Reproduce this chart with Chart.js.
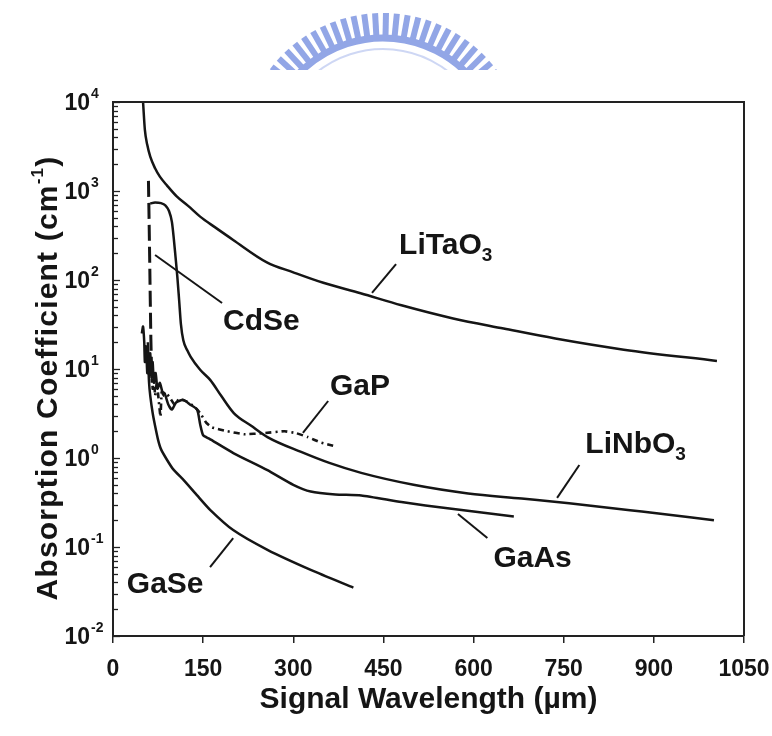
<!DOCTYPE html>
<html>
<head>
<meta charset="utf-8">
<script src="https://cdn.jsdelivr.net/npm/chart.js@4/dist/chart.umd.min.js"></script>
<style>
  html, body { margin: 0; padding: 0; background: #fff; }
  canvas { display: block; }
</style>
</head>
<body>
<canvas id="absChart" width="772" height="736"></canvas>
<script>
// wavelength (um) / absorption (cm^-1) for each crystal
const litaoWl  = [50, 53, 57, 62, 70, 78, 90, 106, 125, 145, 170, 200, 256, 300, 350, 412, 480, 566, 650, 736, 850, 1005];
const litaoAbs = [10000, 4900, 3300, 2430, 1800, 1450, 1150, 870, 680, 515, 390, 282, 158, 122, 93, 71, 52, 37, 28.5, 22, 16.5, 12.3];

const linboWl  = [62, 70, 80, 87, 93, 98, 101, 104, 107, 110, 113, 117, 124, 129, 145, 162, 180, 201, 230, 257, 313, 360, 413, 500, 591, 680, 759, 880, 1000];
const linboAbs = [720, 745, 730, 690, 600, 450, 300, 183, 110, 60, 32, 21, 16, 13.8, 9.8, 7.5, 5.0, 3.2, 2.3, 1.72, 1.17, 0.88, 0.68, 0.50, 0.40, 0.35, 0.31, 0.25, 0.20];

const cdseWl  = [59, 60, 61, 62, 63, 64, 65];
const cdseAbs = [1300, 500, 180, 60, 22, 11, 7];

const gapWl  = [60, 62, 64, 66, 68, 70, 73, 76, 79, 81, 85, 90, 96, 102, 110, 123, 135, 145, 155, 165, 190, 218, 250, 285, 305, 324, 345, 371];
const gapAbs = [15, 8, 12, 6, 9, 5, 7, 4.5, 2.9, 5.5, 5.0, 5.2, 4.6, 4.0, 4.6, 4.3, 3.8, 3.2, 2.5, 2.2, 2.0, 1.85, 1.9, 2.0, 1.9, 1.72, 1.5, 1.35];

const gaasWl  = [58, 60, 62, 64, 66, 68, 71, 74, 78, 82, 86, 92, 98, 105, 117, 128, 140, 145, 150, 160, 201, 257, 300, 329, 370, 413, 480, 560, 667];
const gaasAbs = [20, 10, 15, 8, 12, 7, 9, 6, 7, 5.6, 5.3, 4.0, 3.5, 4.2, 4.5, 4.0, 3.5, 2.4, 1.8, 1.65, 1.13, 0.73, 0.50, 0.42, 0.39, 0.38, 0.32, 0.27, 0.22];

const gaseWl  = [48, 50, 52, 53, 55, 57, 58, 60, 62, 66, 70, 75, 80, 90, 100, 118, 140, 162, 200, 257, 330, 400];
const gaseAbs = [25, 30, 20, 12, 18, 9, 14, 7, 5, 3.2, 2.3, 1.6, 1.25, 0.95, 0.75, 0.56, 0.38, 0.26, 0.155, 0.093, 0.055, 0.035];

const wavelengthTicks = [0, 150, 300, 450, 600, 750, 900, 1050];
const decadeExps = [-2, -1, 0, 1, 2, 3, 4];

// curve names, written next to the curves with a short leader line (data coords)
const curveNotes = [
  { name: "LiTaO", sub: "3", at: [476, 196],    from: [471, 151],   to: [431, 71.5] },
  { name: "CdSe",  sub: "",  at: [183, 27.4],   from: [70, 191],    to: [181.5, 55.2] },
  { name: "GaP",   sub: "",  at: [361, 5.1],    from: [358, 4.37],  to: [316, 1.91] },
  { name: "LiNbO", sub: "3", at: [786, 1.14],   from: [776, 0.834], to: [739, 0.356] },
  { name: "GaAs",  sub: "",  at: [633, 0.0596], from: [574, 0.235], to: [623, 0.126] },
  { name: "GaSe",  sub: "",  at: [23, 0.0304],  from: [200, 0.126], to: [161.5, 0.0596] }
];

const ink = "#151515";
const sans = "'Liberation Sans', Arial, sans-serif";

function pairs(xs, ys) {
  return xs.map((x, i) => ({ x: x, y: ys[i] }));
}

function curve(label, xs, ys, extra) {
  return Object.assign({
    label: label,
    data: pairs(xs, ys),
    borderColor: ink,
    borderWidth: 2.5,
    pointRadius: 0,
    fill: false,
    cubicInterpolationMode: "monotone"
  }, extra || {});
}

// faint crest printed above the plot
const crest = {
  id: "crest",
  beforeDraw(chart) {
    const ctx = chart.ctx;
    ctx.save();
    ctx.fillStyle = "#fff";
    ctx.fillRect(0, 0, chart.width, chart.height);
    ctx.beginPath();
    ctx.rect(0, 0, chart.width, 70);
    ctx.clip();
    ctx.filter = "blur(0.7px)";
    const cx = 383, cy = 155;
    ctx.strokeStyle = "rgb(146, 166, 230)";
    ctx.lineWidth = 6;
    for (let a = 214; a <= 326; a += 4.4) {
      const r = a * Math.PI / 180;
      ctx.beginPath();
      ctx.moveTo(cx + 116 * Math.cos(r), cy + 116 * Math.sin(r));
      ctx.lineTo(cx + 142 * Math.cos(r), cy + 142 * Math.sin(r));
      ctx.stroke();
    }
    ctx.lineWidth = 7;
    ctx.beginPath();
    ctx.arc(cx, cy, 117, Math.PI * 1.15, Math.PI * 1.85);
    ctx.stroke();
    ctx.strokeStyle = "rgba(146, 166, 230, 0.45)";
    ctx.lineWidth = 2;
    ctx.beginPath();
    ctx.arc(cx, cy, 106, Math.PI * 1.15, Math.PI * 1.85);
    ctx.stroke();
    ctx.restore();
  }
};

// frame, log ticks, tick labels, axis titles and curve names
const decorations = {
  id: "decorations",
  afterDraw(chart) {
    const { ctx, chartArea: { top, bottom, left, right }, scales: { x, y } } = chart;
    ctx.save();
    ctx.strokeStyle = "#222";
    ctx.lineWidth = 2;
    ctx.beginPath();
    ctx.moveTo(left, top);
    ctx.lineTo(right, top);
    ctx.lineTo(right, bottom);
    ctx.stroke();

    // inside ticks on the log axis
    ctx.lineWidth = 1.3;
    decadeExps.forEach((e) => {
      for (let m = 1; m <= 9; m++) {
        if (e === 4 && m > 1) break;
        const py = Math.round(y.getPixelForValue(m * Math.pow(10, e))) + 0.5;
        ctx.beginPath();
        ctx.moveTo(left, py);
        ctx.lineTo(left + (m === 1 ? 7 : 5), py);
        ctx.stroke();
      }
    });

    ctx.fillStyle = ink;
    ctx.textBaseline = "alphabetic";
    decadeExps.forEach((e) => {
      const py = y.getPixelForValue(Math.pow(10, e));
      ctx.font = "bold 23px " + sans;
      ctx.textAlign = "right";
      ctx.fillText("10", left - 23, py + 8);
      ctx.font = "bold 14px " + sans;
      ctx.textAlign = "left";
      ctx.fillText(String(e), left - 22, py - 4);
    });

    ctx.font = "bold 23px " + sans;
    ctx.textAlign = "center";
    ctx.textBaseline = "middle";
    wavelengthTicks.forEach((v) => {
      ctx.fillText(String(v), x.getPixelForValue(v), 670);
    });

    // axis titles
    ctx.font = "bold 30px " + sans;
    ctx.fillText("Signal Wavelength (\u00b5m)", (left + right) / 2, 700);

    ctx.save();
    ctx.translate(46, 378);
    ctx.rotate(-Math.PI / 2);
    ctx.letterSpacing = "1.2px";
    ctx.font = "bold 30px " + sans;
    const t1 = "Absorption Coefficient (cm";
    const w1 = ctx.measureText(t1).width;
    const w2 = ctx.measureText(")").width;
    ctx.font = "bold 17px " + sans;
    const ws = ctx.measureText("-1").width;
    const sx = -(w1 + ws + w2) / 2;
    ctx.textAlign = "left";
    ctx.textBaseline = "alphabetic";
    ctx.font = "bold 30px " + sans;
    ctx.fillText(t1, sx, 11);
    ctx.font = "bold 17px " + sans;
    ctx.fillText("-1", sx + w1, -3);
    ctx.font = "bold 30px " + sans;
    ctx.fillText(")", sx + w1 + ws, 11);
    ctx.restore();

    // curve names with leader lines
    ctx.lineWidth = 2;
    ctx.strokeStyle = ink;
    curveNotes.forEach((n) => {
      ctx.beginPath();
      ctx.moveTo(x.getPixelForValue(n.from[0]), y.getPixelForValue(n.from[1]));
      ctx.lineTo(x.getPixelForValue(n.to[0]), y.getPixelForValue(n.to[1]));
      ctx.stroke();
      const tx = x.getPixelForValue(n.at[0]);
      const ty = y.getPixelForValue(n.at[1]);
      ctx.font = "bold 30px " + sans;
      ctx.textAlign = "left";
      ctx.textBaseline = "alphabetic";
      ctx.fillText(n.name, tx, ty);
      if (n.sub) {
        const w = ctx.measureText(n.name).width;
        ctx.font = "bold 19px " + sans;
        ctx.fillText(n.sub, tx + w, ty + 7);
      }
    });
    ctx.restore();
  }
};

const config = {
  type: "line",
  data: {
    datasets: [
      curve("LiTaO3", litaoWl, litaoAbs),
      curve("LiNbO3", linboWl, linboAbs),
      curve("GaAs", gaasWl, gaasAbs, { cubicInterpolationMode: "default", tension: 0.2 }),
      curve("GaP", gapWl, gapAbs, { borderDash: [6, 4, 2, 4], borderWidth: 2.6, cubicInterpolationMode: "default", tension: 0.1 }),
      curve("GaSe", gaseWl, gaseAbs, { cubicInterpolationMode: "default", tension: 0.2 }),
      curve("CdSe", cdseWl, cdseAbs, { borderDash: [16, 6], borderWidth: 3, cubicInterpolationMode: "default", tension: 0 })
    ]
  },
  options: {
    responsive: false,
    animation: false,
    devicePixelRatio: 1,
    layout: { padding: { left: 0, top: 102, right: 28, bottom: 0 } },
    plugins: {
      legend: { display: false },
      tooltip: { enabled: false }
    },
    scales: {
      x: {
        type: "linear",
        min: 0,
        max: 1050,
        afterBuildTicks: (s) => { s.ticks = wavelengthTicks.map((v) => ({ value: v })); },
        afterFit: (s) => { s.height = 100; s.paddingLeft = 0; s.paddingRight = 0; },
        ticks: { display: false },
        grid: { display: true, drawOnChartArea: false, drawTicks: true, tickLength: 7, color: "#222", lineWidth: 1.5 },
        border: { display: true, color: "#222", width: 2 }
      },
      y: {
        type: "logarithmic",
        min: 0.01,
        max: 10000,
        afterFit: (s) => { s.width = 113; s.paddingTop = 0; s.paddingBottom = 0; },
        ticks: { display: false },
        grid: { display: false },
        border: { display: true, color: "#222", width: 2 }
      }
    }
  },
  plugins: [crest, decorations]
};

new Chart(document.getElementById("absChart"), config);
</script>
</body>
</html>
